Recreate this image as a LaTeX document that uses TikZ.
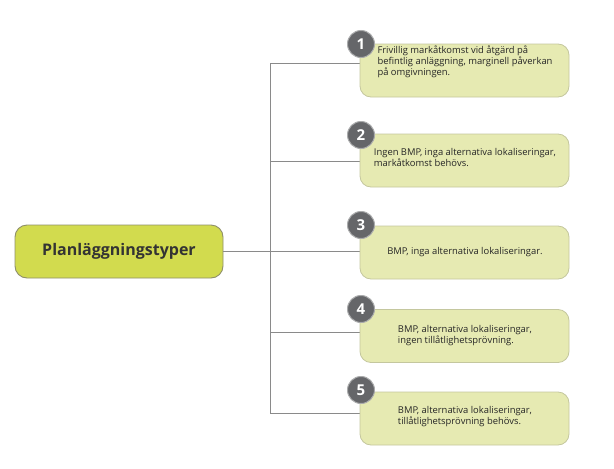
\documentclass[tikz,border=0pt]{standalone}
\usepackage{fontspec}
\setmainfont{Open Sans}
\definecolor{gron}{HTML}{D2DB4E}
\definecolor{ljus}{HTML}{E6EAB2}
\definecolor{kant}{HTML}{C4C79E}
\definecolor{morkkant}{HTML}{8E8F6A}
\definecolor{gra}{HTML}{656669}
\definecolor{linje}{HTML}{8A8A8A}
\begin{document}
\begin{tikzpicture}[x=1pt,y=-1pt,
	ruta/.style={draw=kant,fill=ljus,line width=0.8pt,rounded corners=11pt,minimum width=209pt,minimum height=53pt},
	brodtext/.style={align=left,inner sep=0pt,text=black!85,font=\fontsize{9.4}{9.4}\selectfont},
	siffra/.style={circle,fill=gra,draw=gra!55,line width=1pt,minimum size=27pt,inner sep=0pt,text=white,font=\bfseries\fontsize{15}{15}\selectfont},
	linjer/.style={draw=linje,line width=0.9pt}]
	\useasboundingbox (0,0) rectangle (614,469);
	\node[draw=morkkant,fill=gron,line width=0.9pt,rounded corners=12pt,minimum width=208pt,minimum height=53pt,text=black!80,font=\bfseries\fontsize{16}{18}\selectfont] (typer) at (119,251.5) {Planläggningstyper};
	\coordinate (stam) at (270,251.5);
	\foreach \nr/\yy/\ty/\gy/\cy/\txt in {
		1/70.5/61.5/63/44/{Frivillig markåtkomst vid åtgärd på\\befintlig anläggning, marginell påverkan\\på omgivningen.},
		2/160.5/157.5/161.5/135/{Ingen BMP, inga alternativa lokaliseringar,\\markåtkomst behövs.},
		3/252.5/252.5/251.5/225/{BMP, inga alternativa lokaliseringar.},
		4/336/335.5/332/309/{BMP, alternativa lokaliseringar,\\ingen tillåtlighetsprövning.},
		5/418.5/417/413.5/390/{BMP, alternativa lokaliseringar,\\tillåtlighetsprövning behövs.}}{
		\coordinate (gren\nr) at (270,\gy);
		\draw[linjer] (gren\nr) -- (364,\gy);
		\node[ruta] (ruta\nr) at (464.5,\yy) {};
		\node[brodtext] (text\nr) at (465,\ty) {\txt};
		\node[siffra] (nr\nr) at (361,\cy) {\nr};
	}
	\draw[linjer] (typer.east) -- (stam);
	\draw[linjer] (gren1) -- (gren5);
\end{tikzpicture}
\end{document}
